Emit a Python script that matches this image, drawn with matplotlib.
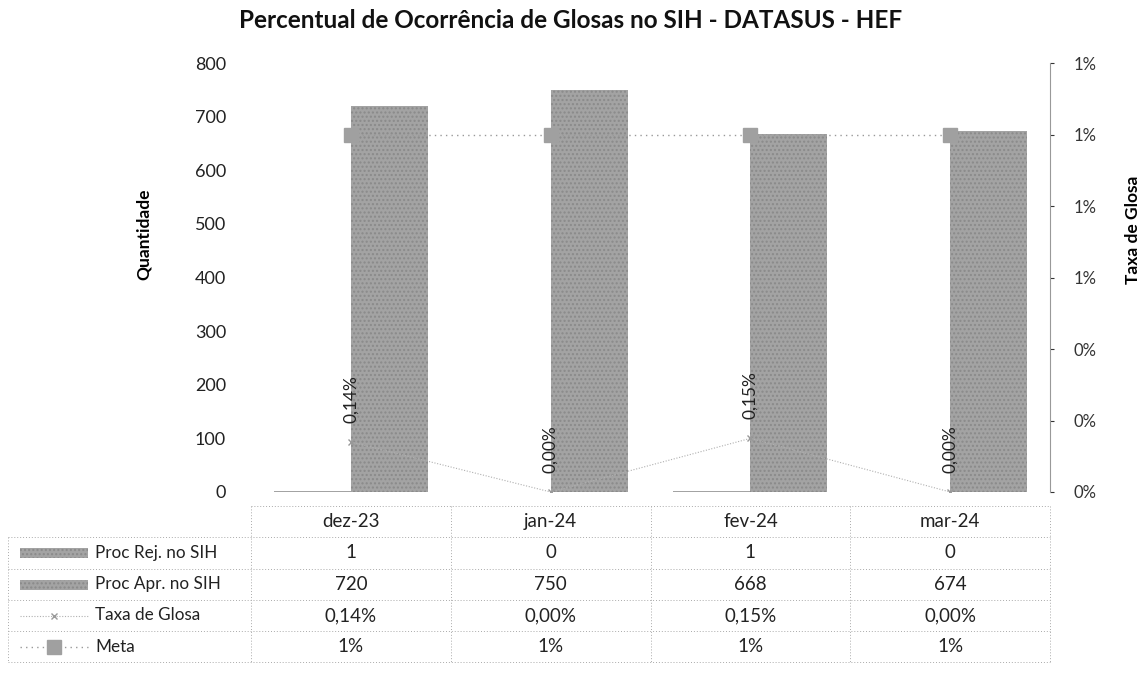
import matplotlib
matplotlib.use("Agg")
import matplotlib.pyplot as plt
import matplotlib.transforms as mtransforms
from matplotlib.lines import Line2D
from matplotlib.patches import Rectangle
import numpy as np

categories = ["dez-23", "jan-24", "fev-24", "mar-24"]
proc_rej = [1, 0, 1, 0]
proc_apr = [720, 750, 668, 674]
taxa_glosa = [0.14, 0.00, 0.15, 0.00]   # percent
meta = [1, 1, 1, 1]                      # percent
row_names = ["Proc Rej. no SIH", "Proc Apr. no SIH", "Taxa de Glosa", "Meta"]

plt.rcParams['font.family'] = ['Lato', 'DejaVu Sans']

W, H = 1141, 677
fig = plt.figure(figsize=(W / 100, H / 100), dpi=100)

def fx(px):
    return px / W

def fy(py):
    return 1 - py / H

ax_l, ax_r, ax_t, ax_b = 251, 1050, 63, 492
ax = fig.add_axes([fx(ax_l), fy(ax_b), fx(ax_r - ax_l), fy(ax_t) - fy(ax_b)])
ax2 = ax.twinx()

x = np.arange(len(categories))
w = 0.386
bar_color = "#a3a3a3"
ax.bar(x - w / 2, proc_rej, w, color=bar_color, linewidth=0)
ax.bar(x + w / 2, proc_apr, w, color=bar_color, hatch="....", edgecolor="#8a8a8a", linewidth=0)
ax.set_xlim(-0.5, len(categories) - 0.5)
ax.set_ylim(0, 800)
ax.set_yticks(np.arange(0, 801, 100))
ax.tick_params(axis='y', length=0, pad=18, labelsize=13, colors="#222222")
ax.set_xticks([])
for s in ax.spines.values():
    s.set_visible(False)
ax.set_ylabel("Quantidade", fontsize=12.5, fontweight="bold")
ax.yaxis.set_label_coords(-0.124, 0.60)

ax2.set_ylim(0, 1.2)
ticks = np.arange(0, 1.21, 0.2)
ax2.set_yticks(ticks)
ax2.set_yticklabels([f"{v:.0f}%" for v in ticks])
ax2.tick_params(axis='y', length=3, pad=14, labelsize=12, colors="#333333", direction="out")
for s in ["left", "top", "bottom"]:
    ax2.spines[s].set_visible(False)
ax2.spines["right"].set_linestyle((0, (1, 1)))
ax2.spines["right"].set_color("#999999")
ax2.spines["right"].set_linewidth(0.8)
ax2.set_ylabel("Taxa de Glosa", fontsize=12.5, fontweight="bold")
ax2.yaxis.set_label_coords(1.094, 0.61)

ax2.plot(x, meta, linestyle=(0, (1, 3)), color="#999999", linewidth=1.0,
         marker="s", markersize=9.5, markerfacecolor="#a0a0a0", markeredgecolor="#a0a0a0")
ax2.plot(x, taxa_glosa, linestyle=(0, (1, 1.5)), color="#b0b0b0", linewidth=0.8,
         marker="x", markersize=5, markeredgecolor="#999999")
for xi, v in zip(x, taxa_glosa):
    ax2.annotate(f"{v:.2f}%".replace(".", ","), (xi, v), xytext=(0, 14),
                 textcoords="offset points", rotation=90, ha="center", va="bottom",
                 fontsize=12.5, color="#222222")

fig.text(0.5, fy(21), "Percentual de Ocorrência de Glosas no SIH - DATASUS - HEF",
         ha="center", va="center", fontsize=17.5, fontweight="bold", color="#111111")

# data table
blend = mtransforms.blended_transform_factory(ax.transData, fig.transFigure)
row_tops = [506, 537, 569, 600, 631, 662]
row_centers = [(row_tops[i] + row_tops[i + 1]) / 2 for i in range(5)]
grid_kw = dict(color="#aaaaaa", linewidth=0.7, linestyle=(0, (1, 2)))

fig.add_artist(Line2D([fx(ax_l), fx(ax_r)], [fy(row_tops[0])] * 2, transform=fig.transFigure, **grid_kw))
for yt in row_tops[1:]:
    fig.add_artist(Line2D([fx(8), fx(ax_r)], [fy(yt)] * 2, transform=fig.transFigure, **grid_kw))
for xb in np.arange(len(categories) + 1) - 0.5:
    fig.add_artist(Line2D([xb, xb], [fy(row_tops[0]), fy(row_tops[-1])], transform=blend, **grid_kw))
fig.add_artist(Line2D([fx(8), fx(8)], [fy(row_tops[1]), fy(row_tops[-1])], transform=fig.transFigure, **grid_kw))

for xi, c in zip(x, categories):
    fig.text(xi, fy(row_centers[0]), c, transform=blend, ha="center", va="center", fontsize=13.5, color="#222222")

row_values = [
    [str(v) for v in proc_rej],
    [str(v) for v in proc_apr],
    [f"{v:.2f}%".replace(".", ",") for v in taxa_glosa],
    [f"{v:.0f}%" for v in meta],
]
for r, (name, vals) in enumerate(zip(row_names, row_values)):
    yc = fy(row_centers[r + 1])
    fig.text(fx(95), yc, name, ha="left", va="center", fontsize=12.3, color="#222222")
    for xi, v in zip(x, vals):
        fig.text(xi, yc, v, transform=blend, ha="center", va="center", fontsize=13.5, color="#222222")

# legend keys
for r in (0, 1):
    yc = row_centers[r + 1]
    fig.add_artist(Rectangle((fx(20), fy(yc + 5)), fx(68), fy(yc - 5) - fy(yc + 5),
                             transform=fig.transFigure, facecolor=bar_color, hatch="....",
                             edgecolor="#8a8a8a", linewidth=0))
yc = fy(row_centers[3])
fig.add_artist(Line2D([fx(20), fx(88)], [yc, yc], transform=fig.transFigure,
                      linestyle=(0, (1, 1.5)), color="#b0b0b0", linewidth=0.8))
fig.add_artist(Line2D([fx(54)], [yc], transform=fig.transFigure, marker="x", markersize=5,
                      markeredgecolor="#999999", linestyle="none"))
yc = fy(row_centers[4])
fig.add_artist(Line2D([fx(20), fx(88)], [yc, yc], transform=fig.transFigure,
                      linestyle=(0, (1, 3)), color="#999999", linewidth=1.0))
fig.add_artist(Line2D([fx(54)], [yc], transform=fig.transFigure, marker="s", markersize=9.5,
                      markerfacecolor="#a0a0a0", markeredgecolor="#a0a0a0", linestyle="none"))

fig.savefig("out.png", dpi=100, facecolor="white")
